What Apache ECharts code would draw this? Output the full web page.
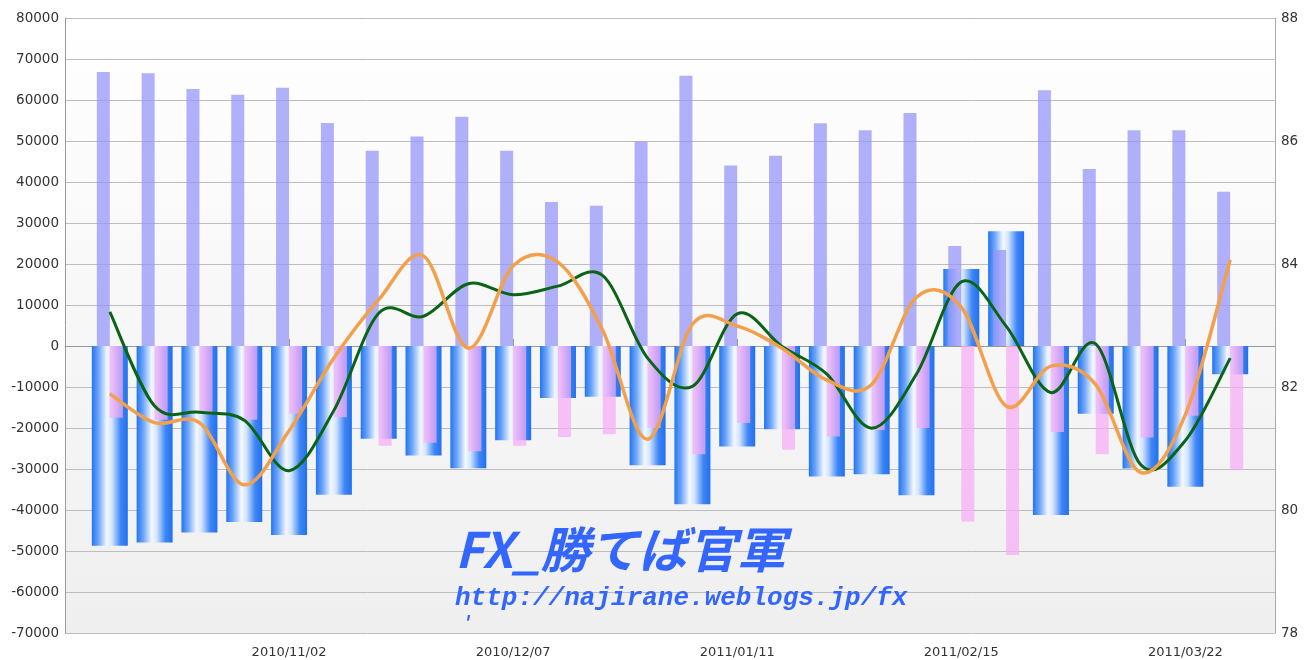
<!DOCTYPE html>
<html>
<head>
<meta charset="utf-8">
<script src="https://cdn.jsdelivr.net/npm/echarts@6/dist/echarts.min.js"></script>
<style>
  html, body { margin: 0; padding: 0; background: #fff; }
  #chart { width: 1304px; height: 660px; }
</style>
</head>
<body>
<div id="chart"></div>
<script>
// weekly dates shown on the x axis
const weeks = [
  '2010/10/05', '2010/10/12', '2010/10/19', '2010/10/26', '2010/11/02',
  '2010/11/09', '2010/11/16', '2010/11/23', '2010/11/30', '2010/12/07',
  '2010/12/14', '2010/12/21', '2010/12/28', '2011/01/04', '2011/01/11',
  '2011/01/18', '2011/01/25', '2011/02/01', '2011/02/08', '2011/02/15',
  '2011/02/22', '2011/03/01', '2011/03/08', '2011/03/15', '2011/03/22',
  '2011/03/29'
]
const tickLabels = ['2010/11/02', '2010/12/07', '2011/01/11', '2011/02/15', '2011/03/22']

// wide blue bars
const blueValues = [
  -48700, -47900, -45500, -42900, -46100, -36300, -22600, -26700, -29800, -23000,
  -12700, -12400, -29100, -38600, -24500, -20300, -31800, -31300, -36400, 18800,
  28000, -41200, -16500, -29900, -34300, -6900
]
// narrow light purple bars
const purpleValues = [
  66800, 66500, 62700, 61300, 63000, 54400, 47600, 51100, 55900, 47600,
  35100, 34200, 49900, 65900, 44000, 46400, 54300, 52600, 56800, 24400,
  23400, 62400, 43200, 52600, 52600, 37600
]
// narrow pink bars
const pinkValues = [
  -17500, -18000, -16400, -18000, -16500, -17400, -24300, -23600, -25700, -24300,
  -22200, -21500, -20000, -26400, -18800, -25300, -22100, -20500, -20000, -42800,
  -51000, -21000, -26400, -22300, -17000, -30300
]
// right axis lines
const greenValues = [
  83.22, 81.69, 81.59, 81.46, 80.64, 81.62, 83.2, 83.15, 83.68, 83.5,
  83.64, 83.81, 82.47, 82.01, 83.19, 82.66, 82.21, 81.33, 82.21, 83.71,
  82.99, 81.91, 82.7, 80.74, 81.13, 82.47
]
const orangeValues = [
  81.89, 81.42, 81.42, 80.41, 81.29, 82.47, 83.42, 84.13, 82.63, 83.97,
  84.03, 82.92, 81.15, 83.02, 82.99, 82.63, 82.11, 82.04, 83.46, 83.3,
  81.69, 82.34, 82.04, 80.61, 81.55, 84.07
]

// one empty week on each side of the data
const axisData = ['2010/09/28', ...weeks, '2011/04/05']
const pad = arr => [null, ...arr, null]
const showTick = (idx, val) => tickLabels.includes(val)

const myChart = echarts.init(document.getElementById('chart'))

const blueGradient = new echarts.graphic.LinearGradient(0, 0, 1, 0, [
  { offset: 0, color: '#2474f2' },
  { offset: 0.18, color: '#6aa4f8' },
  { offset: 0.42, color: '#f4f8ff' },
  { offset: 0.56, color: '#d2e4fd' },
  { offset: 0.8, color: '#3f86f5' },
  { offset: 1, color: '#2070f0' }
])

// catmull-rom curve through the points the axes give us
function splineSeries(values, color, width) {
  return {
    type: 'custom',
    xAxisIndex: 0,
    yAxisIndex: 1,
    z: 5,
    data: values.map((v, i) => [i + 1, v]),
    renderItem(params, api) {
      if (params.dataIndex !== 0) return null
      const pts = values.map((v, i) => api.coord([i + 1, v]))
      let d = 'M' + pts[0][0] + ' ' + pts[0][1]
      for (let i = 0; i < pts.length - 1; i++) {
        const p0 = pts[i - 1] || pts[i]
        const p1 = pts[i]
        const p2 = pts[i + 1]
        const p3 = pts[i + 2] || p2
        const c1x = p1[0] + (p2[0] - p0[0]) / 6
        const c1y = p1[1] + (p2[1] - p0[1]) / 6
        const c2x = p2[0] - (p3[0] - p1[0]) / 6
        const c2y = p2[1] - (p3[1] - p1[1]) / 6
        d += ' C' + c1x + ' ' + c1y + ' ' + c2x + ' ' + c2y + ' ' + p2[0] + ' ' + p2[1]
      }
      return {
        type: 'path',
        z2: 10,
        shape: { pathData: d },
        style: { stroke: color, lineWidth: width, fill: null, lineJoin: 'round' }
      }
    }
  }
}

myChart.setOption({
  animation: false,
  grid: {
    left: 65,
    right: 29,
    top: 18,
    bottom: 27,
    show: true,
    borderWidth: 0,
    backgroundColor: new echarts.graphic.LinearGradient(0, 0, 0, 1, [
      { offset: 0, color: '#ffffff' },
      { offset: 1, color: '#efefef' }
    ])
  },
  xAxis: [
    {
      type: 'category',
      data: axisData,
      boundaryGap: false,
      axisLine: { lineStyle: { color: '#999' } },
      axisTick: {
        inside: true,
        length: 7,
        interval: showTick,
        lineStyle: { color: '#999' }
      },
      axisLabel: {
        interval: showTick,
        color: '#333',
        fontSize: 13,
        margin: 13,
        fontFamily: 'DejaVu Sans'
      },
      splitLine: { show: false }
    },
    {
      type: 'category',
      data: axisData,
      boundaryGap: false,
      show: false
    }
  ],
  yAxis: [
    {
      type: 'value',
      min: -70000,
      max: 80000,
      interval: 10000,
      axisLine: { show: true, lineStyle: { color: '#999' } },
      axisTick: { show: false },
      axisLabel: {
        color: '#333',
        fontSize: 13.5,
        margin: 6,
        fontFamily: 'DejaVu Sans',
        formatter: v => String(v)
      },
      splitLine: { lineStyle: { color: '#bdbdbd' } }
    },
    {
      type: 'value',
      min: 78,
      max: 88,
      interval: 2,
      axisLine: { show: true, lineStyle: { color: '#aaa' } },
      axisTick: { show: false },
      axisLabel: { color: '#333', fontSize: 13.5, margin: 6, fontFamily: 'DejaVu Sans' },
      splitLine: { show: false }
    }
  ],
  series: [
    {
      type: 'bar',
      xAxisIndex: 1,
      barWidth: 36,
      data: pad(blueValues),
      itemStyle: { color: blueGradient }
    },
    {
      type: 'bar',
      xAxisIndex: 0,
      barWidth: 13,
      barGap: 0,
      data: pad(purpleValues),
      itemStyle: { color: 'rgba(150,150,250,0.75)' }
    },
    {
      type: 'bar',
      xAxisIndex: 0,
      barWidth: 13,
      barGap: 0,
      data: pad(pinkValues),
      itemStyle: { color: 'rgba(246,172,246,0.72)' }
    },
    splineSeries(greenValues, '#0b6416', 3),
    splineSeries(orangeValues, '#f3a04c', 3.5)
  ],
  graphic: [
    {
      type: 'text',
      left: 455,
      top: 525,
      z: 100,
      style: {
        text: 'FX_勝てば官軍',
        fill: '#3366ff',
        font: 'italic bold 49px "Noto Sans CJK JP"'
      }
    },
    {
      type: 'text',
      left: 455,
      top: 585,
      z: 100,
      style: {
        text: 'http://najirane.weblogs.jp/fx',
        fill: '#3366ff',
        font: 'italic bold 26px "Liberation Mono"'
      }
    },
    {
      type: 'text',
      left: 462,
      top: 614,
      z: 100,
      style: {
        text: '\'',
        fill: '#3366ff',
        font: 'italic bold 18px "Liberation Mono"'
      }
    }
  ]
})

window.addEventListener('resize', () => {
  myChart.resize()
})
</script>
</body>
</html>
